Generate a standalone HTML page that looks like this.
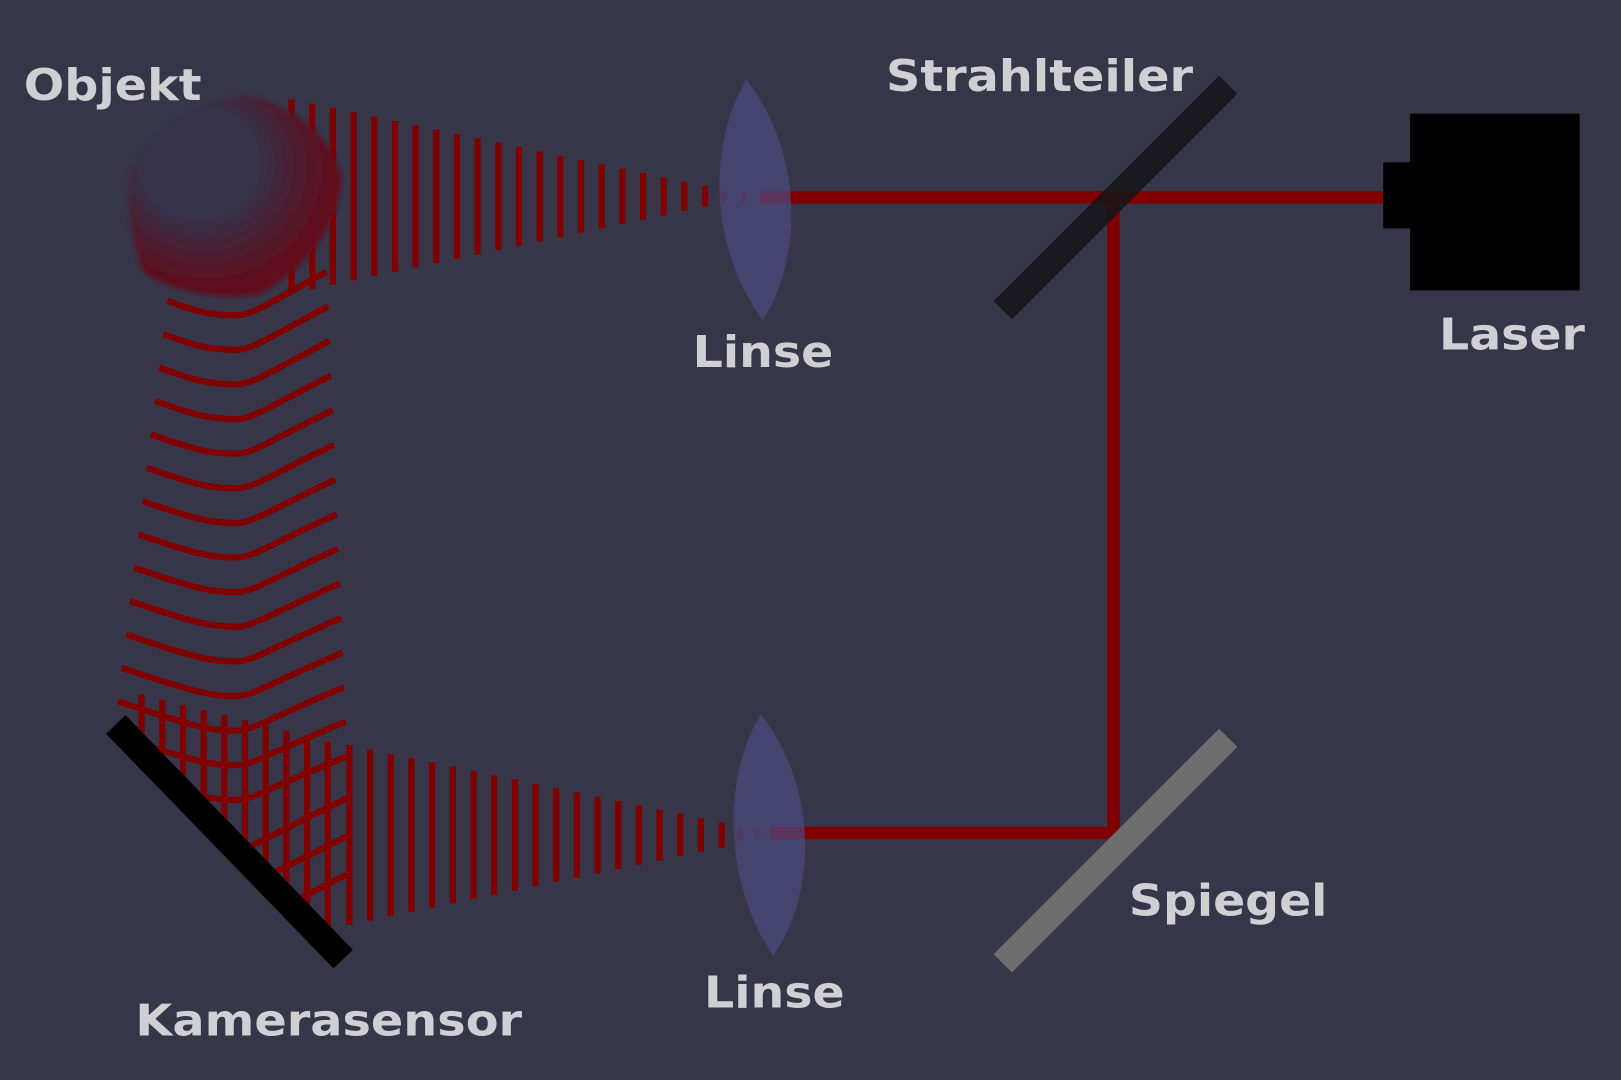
<!DOCTYPE html>
<html><head><meta charset="utf-8"><style>
html,body{margin:0;padding:0;background:#373649;}
svg{display:block}
text{font-family:"DejaVu Sans","Liberation Sans",sans-serif;font-weight:bold;fill:#cfcfd4;}
</style></head><body>
<svg id="s" width="1621" height="1080" viewBox="0 0 1568 1045" preserveAspectRatio="none" xmlns="http://www.w3.org/2000/svg">
<defs>
<radialGradient id="og" cx="0.38" cy="0.38" r="0.7" fx="0.3" fy="0.3">
<stop offset="0" stop-color="#34324a"/><stop offset="0.4" stop-color="#363148"/><stop offset="0.8" stop-color="#5e1020"/><stop offset="1" stop-color="#6a0c16"/>
</radialGradient>
<filter id="bl"><feGaussianBlur stdDeviation="2"/></filter>
<clipPath id="cp"><polygon points="0,0 1568,0 1568,1045 441,1045 118,710 0,710"/></clipPath>
</defs>
<rect width="1568" height="1045" fill="#373649"/>
<g id="waves" stroke="#800000" stroke-width="6" fill="none" stroke-linecap="butt"></g>
<g id="grid" stroke="#800000" stroke-width="6" fill="none" clip-path="url(#cp)"></g>
<path d="M240,93 C280,100 320,130 330,170 C332,210 300,260 250,285 C210,292 160,280 138,262 C125,230 120,180 128,160 C150,120 190,95 240,93 Z" fill="url(#og)" filter="url(#bl)" opacity="0.97"/>
<line x1="735" y1="191" x2="1340" y2="191" stroke="#800000" stroke-width="12"/>
<line x1="1077" y1="191" x2="1077" y2="806" stroke="#800000" stroke-width="12"/>
<line x1="745" y1="806" x2="1077" y2="806" stroke="#800000" stroke-width="12"/>
<line x1="700" y1="184" x2="700" y2="198" stroke="#800000" stroke-width="5" opacity="0.6"/>
<line x1="720" y1="186" x2="720" y2="196" stroke="#800000" stroke-width="5" opacity="0.6"/>
<line x1="716" y1="800" x2="716" y2="814" stroke="#800000" stroke-width="5" opacity="0.6"/>
<line x1="733" y1="802" x2="733" y2="812" stroke="#800000" stroke-width="5" opacity="0.6"/>
<path d="M722,77 C778,150 776,250 738,310 C686,240 684,140 722,77 Z" fill="#4a4a80" opacity="0.7"/>
<path d="M736,691 C792,764 790,864 748,925 C700,854 698,754 736,691 Z" fill="#4a4a80" opacity="0.7"/>
<line x1="970" y1="300" x2="1188" y2="82" stroke="#151518" stroke-width="25" opacity="0.85"/>
<line x1="970" y1="932" x2="1188" y2="714" stroke="#6e6e6e" stroke-width="25"/>
<rect x="1364" y="110" width="164" height="171" fill="#000"/>
<rect x="1338" y="157" width="28" height="64" fill="#000"/>
<line x1="112" y1="701" x2="332" y2="928" stroke="#000" stroke-width="26"/>
<text x="23" y="97" font-size="42" textLength="172" lengthAdjust="spacingAndGlyphs">Objekt</text>
<text x="857" y="88" font-size="42" textLength="297" lengthAdjust="spacingAndGlyphs">Strahlteiler</text>
<text x="670" y="355" font-size="42" textLength="136" lengthAdjust="spacingAndGlyphs">Linse</text>
<text x="1392" y="338" font-size="42" textLength="141" lengthAdjust="spacingAndGlyphs">Laser</text>
<text x="1092" y="886" font-size="42" textLength="192" lengthAdjust="spacingAndGlyphs">Spiegel</text>
<text x="681" y="975" font-size="42" textLength="136" lengthAdjust="spacingAndGlyphs">Linse</text>
<text x="131" y="1002" font-size="42" textLength="374" lengthAdjust="spacingAndGlyphs">Kamerasensor</text>
</svg>
<script>
var NS="http://www.w3.org/2000/svg";
function el(p,t,a){var e=document.createElementNS(NS,t);for(var k in a)e.setAttribute(k,a[k]);p.appendChild(e);}
var w=document.getElementById('waves'),g=document.getElementById('grid');
for(var x=282;x<=683;x+=20){var h=94-(x-282)*0.21;el(w,'line',{x1:x,y1:190-h,x2:x,y2:190+h});}
for(var x=338;x<=698;x+=20){var h=87-(x-338)*0.208;el(w,'line',{x1:x,y1:808-h,x2:x,y2:808+h});}
for(var k=0;k<15;k++){var cy=305+k*33.5,lx=162-k*4,ly=cy-14-k*1.2,rx=316+k*1.4,ry=cy-42;
 el(k>11?g:w,'path',{d:'M'+lx+','+ly+' C190,'+(cy-3)+' 205,'+cy+' 228,'+cy+' C245,'+cy+' 260,'+(cy-12)+' '+rx+','+ry});}
for(var i=0;i<3;i++){var y=770+i*37;el(g,'line',{x1:240,y1:y+50,x2:340,y2:y});}
for(var x=137;x<=320;x+=20){el(g,'line',{x1:x,y1:672+(x-137)*0.25,x2:x,y2:1000});}
</script>
</body></html>
